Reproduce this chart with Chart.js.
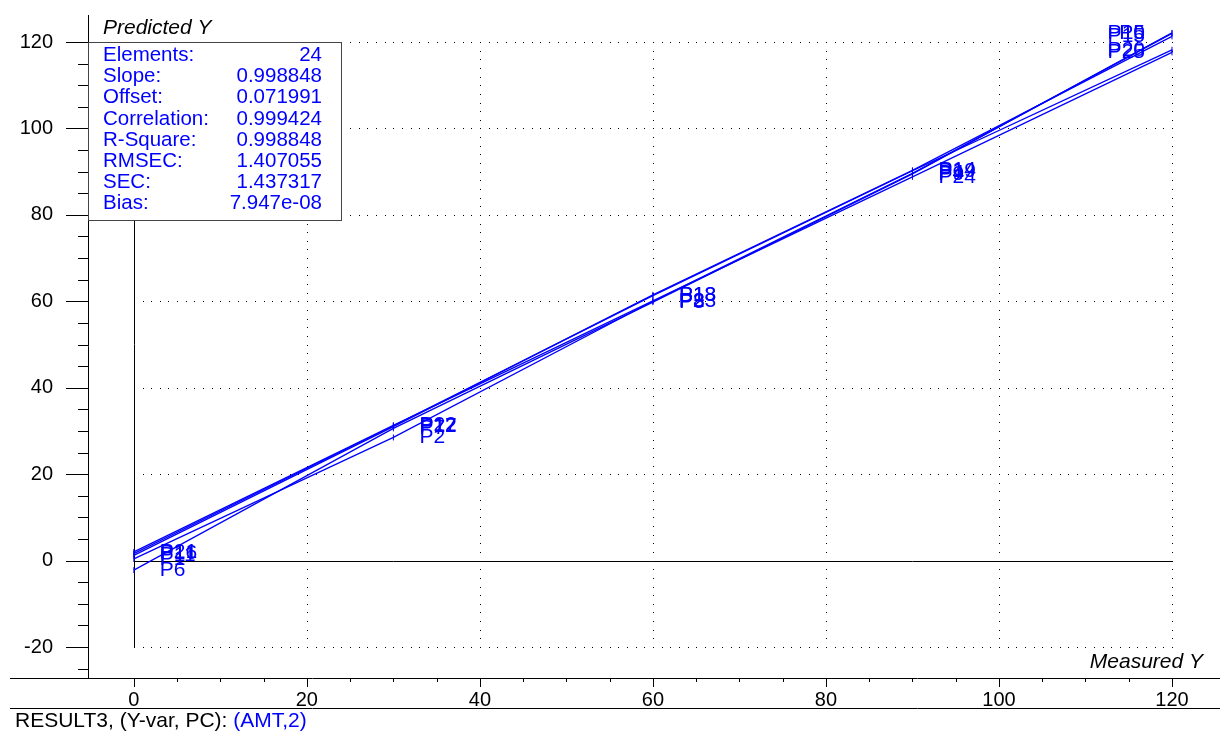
<!DOCTYPE html>
<html lang="en">
<head>
    <meta charset="UTF-8">
    <title>Predicted vs Measured</title>
    <script src="https://cdn.jsdelivr.net/npm/chart.js"></script>
    <style>
      html, body { margin: 0; padding: 0; background: #fff; }
    </style>
</head>
<body>
    <div style="width: 1226px; height: 733px;">
        <canvas id="grafico1"></canvas>
    </div>

    <script>
      // measured values (x) and predicted values per replicate series
      const medido = [0, 30, 60, 90, 120]
      const serie1 = [0.4, 28.5, 60.0, 89.6, 122.0]
      const serie2 = [-2.2, 30.6, 59.8, 89.5, 122.1]
      const serie3 = [1.2, 31.0, 61.5, 90.3, 121.3]
      const serie4 = [1.6, 31.2, 61.3, 90.2, 118.2]
      const serie5 = [2.0, 31.3, 60.1, 88.8, 117.6]
      const nomes1 = ["P1", "P2", "P3", "P4", "P5"]
      const nomes2 = ["P6", "P7", "P8", "P9", "P10"]
      const nomes3 = ["P11", "P12", "P13", "P14", "P15"]
      const nomes4 = ["P16", "P17", "P18", "P19", "P20"]
      const nomes5 = ["P21", "P22", "P23", "P24", "P25"]

      const ticksX = [0, 20, 40, 60, 80, 100, 120]
      const ticksY = [-20, 0, 20, 40, 60, 80, 100, 120]

      const estatNomes = ["Elements:", "Slope:", "Offset:", "Correlation:", "R-Square:", "RMSEC:", "SEC:", "Bias:"]
      const estatValores = ["24", "0.998848", "0.071991", "0.999424", "0.998848", "1.407055", "1.437317", "7.947e-08"]

      const azul = "#0000ff"
      const fonte = "'Liberation Sans', Arial, sans-serif"

      const series = [serie1, serie2, serie3, serie4, serie5]
      const nomes = [nomes1, nomes2, nomes3, nomes4, nomes5]

      const datasets = series.map((s, i) => ({
        label: "S" + (i + 1),
        data: s.map((v, j) => ({ x: medido[j], y: v })),
        nomes: nomes[i],
        borderColor: azul,
        backgroundColor: azul,
        borderWidth: 1.3,
        pointStyle: 'line',
        rotation: 90,
        pointRadius: 3,
        pointBorderWidth: 1,
        tension: 0
      }))

      // extras: dotted grid, zero lines, ticks, labels, stats box
      const extras = {
        id: 'extras',
        beforeDatasetsDraw(chart) {
          const c = chart.ctx, sx = chart.scales.x, sy = chart.scales.y
          const a = chart.chartArea
          c.save()
          c.fillStyle = "#000"
          // dotted grid
          ticksY.forEach(t => {
            if (t === 0) return
            const py = Math.round(sy.getPixelForValue(t))
            for (let v = 0; v <= 120; v += 1) {
              c.fillRect(Math.round(sx.getPixelForValue(v)), py, 1, 1)
            }
          })
          ticksX.forEach(t => {
            if (t === 0) return
            const px = Math.round(sx.getPixelForValue(t))
            for (let v = -20; v <= 120; v += 2) {
              c.fillRect(px, Math.round(sy.getPixelForValue(v)), 1, 1)
            }
          })
          // zero lines
          c.strokeStyle = "#000"
          c.lineWidth = 1
          const x0 = Math.round(sx.getPixelForValue(0)) + 0.5
          const y0 = Math.round(sy.getPixelForValue(0)) + 0.5
          c.beginPath()
          c.moveTo(x0, sy.getPixelForValue(-20))
          c.lineTo(x0, sy.getPixelForValue(120))
          c.moveTo(sx.getPixelForValue(0), y0)
          c.lineTo(sx.getPixelForValue(120), y0)
          c.stroke()
          // axis frame
          c.beginPath()
          c.moveTo(a.left + 0.5, a.top)
          c.lineTo(a.left + 0.5, a.bottom)
          c.moveTo(10, a.bottom + 0.5)
          c.lineTo(a.right, a.bottom + 0.5)
          c.moveTo(10, 708.5)
          c.lineTo(a.right, 708.5)
          // y ticks
          for (let v = -25; v <= 120; v += 5) {
            const py = Math.round(sy.getPixelForValue(v)) + 0.5
            const len = v % 20 === 0 ? 22 : 10
            c.moveTo(a.left - len, py)
            c.lineTo(a.left, py)
          }
          // x ticks
          for (let v = 0; v <= 120; v += 5) {
            const px = Math.round(sx.getPixelForValue(v)) + 0.5
            const len = v % 20 === 0 ? 9 : 4
            c.moveTo(px, a.bottom)
            c.lineTo(px, a.bottom + len)
          }
          c.stroke()
          c.restore()
        },
        afterDatasetsDraw(chart) {
          const c = chart.ctx
          const a = chart.chartArea
          c.save()
          c.font = "21px " + fonte
          c.fillStyle = azul
          c.textBaseline = 'middle'
          chart.data.datasets.forEach((ds, i) => {
            const meta = chart.getDatasetMeta(i)
            meta.data.forEach((pt, j) => {
              const txt = ds.nomes[j]
              const w = c.measureText(txt).width
              if (pt.x + 26 + w > a.right - 20) {
                c.textAlign = 'right'
                c.fillText(txt, pt.x - 27, pt.y)
              } else {
                c.textAlign = 'left'
                c.fillText(txt, pt.x + 26, pt.y)
              }
            })
          })
          c.restore()
        },
        afterDraw(chart) {
          const c = chart.ctx
          c.save()
          // stats box
          c.fillStyle = "#fff"
          c.fillRect(88, 42, 253, 178)
          c.strokeStyle = "#444"
          c.lineWidth = 1
          c.strokeRect(88.5, 42.5, 253, 178)
          c.font = "20.5px " + fonte
          c.fillStyle = azul
          c.textBaseline = 'alphabetic'
          estatNomes.forEach((n, i) => {
            const by = 61 + i * 21.2
            c.textAlign = 'left'
            c.fillText(n, 103, by)
            c.textAlign = 'right'
            c.fillText(estatValores[i], 322, by)
          })
          // axis titles
          c.fillStyle = "#000"
          c.font = "italic 21px " + fonte
          c.textAlign = 'left'
          c.fillText("Predicted Y", 103, 34)
          c.textAlign = 'right'
          c.fillText("Measured Y", 1203, 668)
          // footer
          c.font = "21px " + fonte
          c.textAlign = 'left'
          const rodape = "RESULT3, (Y-var, PC): "
          c.fillText(rodape, 15, 727)
          c.fillStyle = azul
          c.fillText("(AMT,2)", 15 + c.measureText(rodape).width, 727)
          c.restore()
        }
      }

      const ctx = document.getElementById('grafico1')
      Chart.defaults.font.family = fonte
      Chart.defaults.font.size = 20
      Chart.defaults.color = "#000"

      let grafico1 = new Chart(ctx, {
        type: 'line',
        data: { datasets: datasets },
        options: {
          responsive: true,
          maintainAspectRatio: false,
          animation: false,
          layout: { padding: { top: 15, right: 6, left: 0, bottom: 0 } },
          plugins: { legend: { display: false }, tooltip: { enabled: false } },
          scales: {
            x: {
              type: 'linear',
              min: -5.3,
              max: 125.55,
              grid: { display: false, drawTicks: false },
              border: { display: false },
              ticks: { padding: 10, maxRotation: 0, autoSkip: false },
              afterBuildTicks: s => { s.ticks = ticksX.map(v => ({ value: v })) },
              afterFit: s => { s.height = 55; s.paddingLeft = 0; s.paddingRight = 0 }
            },
            y: {
              type: 'linear',
              min: -27.17,
              max: 126.25,
              grid: { display: false, drawTicks: false },
              border: { display: false },
              ticks: { padding: 35, autoSkip: false },
              afterBuildTicks: s => { s.ticks = ticksY.map(v => ({ value: v })) },
              afterFit: s => { s.width = 88; s.paddingTop = 0; s.paddingBottom = 0 }
            }
          }
        },
        plugins: [extras]
      })
    </script>
</body>
</html>
